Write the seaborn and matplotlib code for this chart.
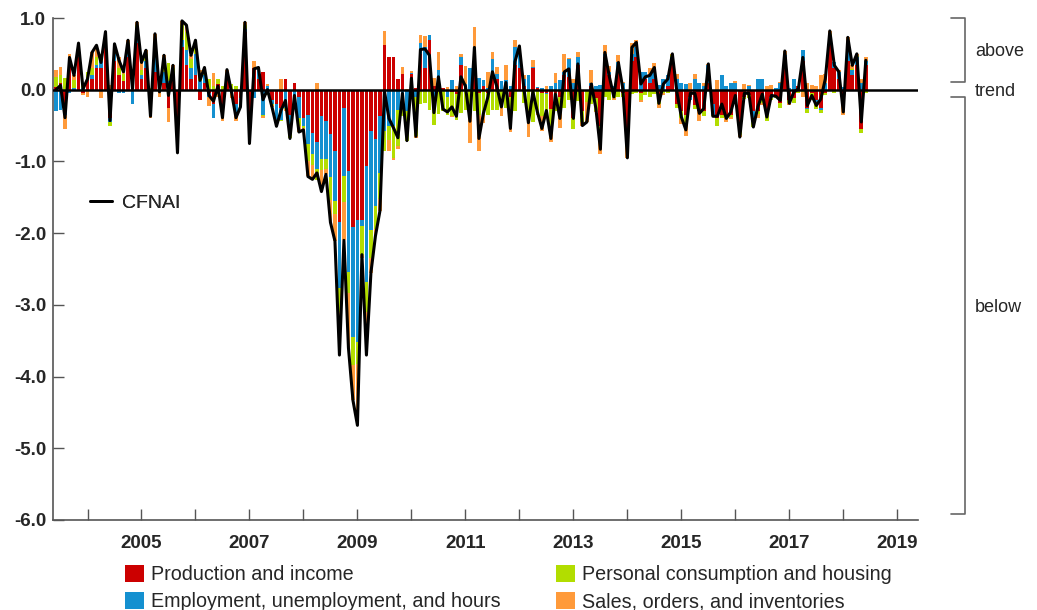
import numpy as np
import pandas as pd
import matplotlib
matplotlib.use("Agg")
import matplotlib.pyplot as plt
import seaborn as sns
from matplotlib.transforms import blended_transform_factory
from matplotlib.patches import Patch
from matplotlib.lines import Line2D

# ---------------- data (monthly, Jun 2003 - Jun 2018) ----------------
months = pd.period_range("2003-06", "2018-06", freq="M")

production = [0.04, 0.09, -0.30, 0.34, 0.00, 0.45, -0.05, 0.13, 0.15, 0.30,
              0.30, 0.60, -0.40, 0.40, 0.20, 0.12, 0.45, 0.05, 0.65, 0.15,
              0.30, -0.25, 0.25, 0.02, 0.10, -0.25, 0.15, -0.70, 0.60, 0.35,
              0.15, 0.20, -0.15, 0.10, -0.05, -0.20, 0.08, -0.20, 0.15, -0.05,
              -0.20, -0.12, 0.80, -0.65, 0.30, 0.15, 0.25, -0.05, -0.15, -0.20,
              -0.25, 0.15, -0.35, 0.10, -0.10, -0.40, -0.35, -0.60, -0.73, -0.36,
              -0.43, -0.62, -0.86, -1.85, -0.25, -1.13, -1.92, -1.81, -1.81, -1.06,
              -0.58, -0.69, -0.37, 0.62, 0.45, 0.45, 0.15, 0.22, 0.00, 0.22,
              0.02, 0.50, 0.30, 0.70, 0.05, 0.18, 0.02, -0.02, -0.03, -0.06,
              0.35, 0.05, -0.02, 0.35, -0.05, 0.05, -0.05, 0.25, 0.15, -0.02,
              0.00, -0.10, 0.35, 0.30, 0.05, -0.01, 0.30, 0.02, -0.05, -0.04,
              -0.27, -0.05, -0.10, 0.20, 0.18, -0.40, 0.35, -0.30, 0.00, 0.05,
              -0.12, -0.50, 0.45, 0.20, 0.00, 0.28, -0.05, -0.65, 0.40, 0.45,
              -0.05, 0.15, 0.10, 0.15, -0.10, 0.00, 0.05, 0.40, -0.20, -0.30,
              -0.35, -0.10, -0.22, -0.30, -0.30, 0.10, -0.20, -0.40, -0.35, -0.35,
              -0.35, -0.15, -0.50, -0.10, -0.08, -0.30, -0.30, -0.15, -0.30, -0.10,
              -0.10, -0.18, 0.45, -0.15, -0.12, 0.05, 0.40, -0.25, -0.05, -0.15,
              -0.25, -0.05, 0.75, 0.30, 0.15, -0.10, 0.40, 0.20, 0.35, -0.55,
              0.35]

employment = [-0.30, -0.28, -0.05, -0.05, 0.02, 0.08, 0.02, 0.02, 0.05, 0.05,
              0.10, 0.10, -0.05, 0.10, -0.04, -0.05, 0.05, -0.20, 0.10, 0.05,
              0.10, -0.05, 0.30, -0.02, 0.15, 0.12, 0.05, -0.15, 0.10, 0.20,
              0.15, 0.30, 0.12, 0.10, -0.05, -0.20, -0.02, -0.10, 0.03, 0.00,
              -0.12, -0.10, 0.05, -0.05, -0.11, 0.15, -0.35, 0.05, -0.05, -0.25,
              -0.17, -0.25, -0.25, -0.13, -0.30, -0.10, -0.40, -0.30, -0.38, -0.60,
              -0.53, -0.60, -0.69, -0.92, -0.95, -1.41, -1.53, -1.71, -0.09, -1.62,
              -1.37, -0.93, -0.79, -0.58, -0.50, -0.50, -0.28, -0.07, -0.30, 0.02,
              -0.10, 0.15, 0.30, 0.06, -0.10, 0.09, 0.01, -0.08, 0.14, 0.00,
              0.10, 0.03, 0.30, 0.03, 0.17, 0.08, 0.02, 0.18, 0.07, 0.12,
              0.13, 0.05, 0.25, 0.24, 0.10, 0.20, 0.02, 0.02, 0.03, -0.02,
              0.05, 0.10, 0.13, 0.05, 0.25, 0.10, 0.10, 0.00, -0.02, 0.05,
              0.05, 0.07, 0.05, 0.05, 0.05, 0.10, 0.10, 0.00, 0.10, 0.15,
              0.25, 0.10, 0.10, 0.10, 0.06, 0.15, 0.15, 0.05, 0.15, 0.10,
              0.08, -0.05, 0.15, 0.10, 0.05, 0.25, -0.15, 0.00, 0.20, 0.05,
              0.10, 0.10, -0.05, 0.00, 0.05, -0.15, 0.15, 0.15, -0.03, -0.02,
              0.03, 0.10, 0.03, 0.02, 0.15, 0.00, 0.15, -0.02, 0.00, -0.02,
              -0.03, 0.10, 0.00, 0.08, 0.10, 0.04, 0.15, 0.08, 0.10, 0.10,
              0.05]

consumption = [0.14, 0.12, 0.16, 0.04, 0.12, 0.12, 0.06, 0.10, 0.10, 0.10,
               0.10, 0.08, -0.05, 0.10, 0.10, 0.10, 0.15, 0.08, 0.15, 0.08,
               0.10, 0.03, 0.10, 0.05, 0.10, 0.25, 0.10, 0.00, 0.20, 0.25,
               0.13, 0.15, 0.08, 0.10, 0.15, 0.05, 0.07, 0.05, 0.02, 0.08,
               0.05, 0.00, 0.05, -0.02, 0.00, 0.00, -0.02, -0.03, -0.02, -0.03,
               -0.02, -0.02, -0.07, -0.02, -0.10, -0.04, -0.25, -0.15, -0.15, -0.16,
               -0.15, -0.32, -0.19, -0.33, -0.36, -0.30, -0.39, -0.30, -0.40, -0.42,
               -0.39, -0.32, -0.37, -0.28, -0.20, -0.45, -0.50, -0.30, -0.42, -0.10,
               -0.55, -0.20, -0.18, -0.28, -0.39, -0.34, -0.30, -0.25, -0.33, -0.36,
               -0.32, -0.28, -0.30, -0.29, -0.30, -0.31, -0.30, -0.28, -0.28, -0.22,
               -0.25, -0.27, -0.30, 0.00, -0.18, -0.35, -0.45, -0.30, -0.32, -0.28,
               -0.35, -0.25, -0.23, -0.25, -0.15, -0.15, -0.16, -0.15, -0.15, -0.20,
               -0.18, -0.15, -0.10, -0.15, -0.12, -0.10, -0.05, -0.15, -0.06, -0.04,
               -0.10, -0.07, -0.10, -0.06, -0.10, -0.05, -0.05, 0.03, -0.05, -0.10,
               -0.12, 0.00, -0.05, 0.00, -0.06, 0.00, -0.02, -0.10, -0.05, -0.03,
               -0.03, -0.05, -0.08, -0.03, -0.04, -0.07, -0.04, -0.03, -0.10, -0.02,
               -0.02, -0.08, 0.01, -0.03, -0.06, -0.04, -0.03, -0.05, -0.10, -0.10,
               -0.05, -0.02, 0.02, -0.04, -0.02, -0.05, 0.03, 0.01, 0.02, -0.05,
               -0.05]

sales = [0.09, 0.11, -0.20, 0.12, 0.06, 0.00, -0.02, -0.10, 0.22, 0.17,
         -0.12, 0.03, 0.07, 0.04, 0.15, 0.08, 0.04, 0.08, 0.04, 0.10,
         0.05, -0.10, 0.13, -0.08, 0.13, -0.20, 0.04, -0.03, 0.06, 0.10,
         0.05, 0.04, 0.08, 0.01, -0.13, 0.19, -0.08, -0.14, 0.08, -0.06,
         -0.12, -0.02, 0.04, -0.03, 0.10, 0.01, -0.02, 0.03, -0.02, -0.03,
         0.15, -0.03, -0.01, -0.03, -0.09, -0.02, -0.21, -0.20, 0.10, -0.30,
         -0.07, -0.31, -0.37, -0.60, -0.54, -0.76, -0.49, -0.86, -0.05, -0.60,
         -0.21, -0.10, -0.16, 0.20, -0.15, -0.03, -0.04, 0.10, 0.01, 0.02,
         -0.02, 0.11, 0.15, 0.00, 0.12, 0.25, 0.00, 0.04, -0.02, 0.05,
         0.05, 0.25, -0.42, 0.50, -0.50, -0.15, 0.23, 0.10, 0.10, -0.12,
         0.22, -0.22, 0.09, 0.07, 0.05, -0.30, 0.10, -0.05, -0.20, 0.05,
         -0.11, 0.14, -0.20, 0.25, 0.01, 0.05, 0.07, -0.05, -0.28, 0.18,
         -0.01, -0.25, 0.12, 0.08, -0.03, 0.10, 0.01, -0.15, 0.15, 0.10,
         -0.02, 0.00, 0.10, 0.12, -0.05, -0.02, 0.00, 0.02, 0.07, -0.08,
         -0.17, 0.10, 0.07, -0.13, 0.05, 0.01, 0.00, 0.13, 0.00, -0.07,
         -0.03, 0.02, -0.03, 0.08, 0.02, 0.00, -0.05, -0.03, 0.05, 0.06,
         0.00, 0.01, 0.05, -0.03, 0.00, 0.00, -0.07, 0.10, 0.07, 0.05,
         0.20, 0.12, 0.05, 0.00, 0.02, -0.20, 0.15, 0.05, 0.03, 0.05,
         0.06]

cfnai = [0.00, 0.06, -0.39, 0.45, 0.20, 0.65, 0.01, 0.15, 0.52, 0.62,
         0.38, 0.81, -0.43, 0.64, 0.41, 0.25, 0.69, 0.01, 0.94, 0.38,
         0.55, -0.37, 0.78, -0.03, 0.48, -0.08, 0.34, -0.88, 0.96, 0.90,
         0.48, 0.69, 0.13, 0.31, -0.08, -0.16, 0.05, -0.39, 0.28, -0.03,
         -0.39, -0.24, 0.94, -0.75, 0.29, 0.31, -0.14, 0.00, -0.24, -0.51,
         -0.29, -0.15, -0.68, -0.08, -0.59, -0.56, -1.21, -1.25, -1.16, -1.42,
         -1.18, -1.85, -2.11, -3.70, -2.10, -3.60, -4.33, -4.68, -2.30, -3.70,
         -2.55, -2.04, -1.69, -0.02, -0.40, -0.53, -0.67, -0.05, -0.71, 0.16,
         -0.65, 0.56, 0.57, 0.48, -0.32, 0.18, -0.27, -0.31, -0.24, -0.37,
         0.18, 0.05, -0.44, 0.59, -0.68, -0.33, -0.10, 0.25, 0.04, -0.24,
         0.10, -0.54, 0.39, 0.61, 0.02, -0.46, -0.03, -0.31, -0.54, -0.29,
         -0.68, -0.06, -0.40, 0.25, 0.29, -0.40, 0.36, -0.50, -0.45, 0.08,
         -0.26, -0.83, 0.52, 0.18, -0.10, 0.38, 0.01, -0.95, 0.59, 0.66,
         0.08, 0.18, 0.20, 0.31, -0.19, 0.08, 0.15, 0.50, -0.03, -0.38,
         -0.56, -0.05, -0.05, -0.33, -0.26, 0.36, -0.37, -0.37, -0.20, -0.40,
         -0.31, -0.08, -0.66, -0.05, -0.05, -0.52, -0.24, -0.06, -0.38, -0.08,
         -0.09, -0.15, 0.54, -0.19, -0.03, 0.01, 0.45, -0.22, -0.08, -0.22,
         -0.13, 0.15, 0.82, 0.34, 0.25, -0.31, 0.73, 0.34, 0.50, -0.45,
         0.41]

series_names = ["Production and income",
                "Employment, unemployment, and hours",
                "Personal consumption and housing",
                "Sales, orders, and inventories"]
series_colors = ["#CC0000", "#1490D0", "#B2DD00", "#FF9A3A"]
ytick_values = [1, 0, -1, -2, -3, -4, -5, -6]
ytick_labels = ["1.0", "0.0", "-1.0", "-2.0", "-3.0", "-4.0", "-5.0", "-6.0"]

# ---------------- styling ----------------
sns.set_theme(style="white")
plt.rcParams["font.family"] = ["Liberation Sans", "DejaVu Sans"]

W, H = 1037, 610
fig = plt.figure(figsize=(W / 100, H / 100), dpi=100)
ax = fig.add_axes([53 / W, 90 / H, 865 / W, 502 / H])

idx = np.arange(len(months))
pos_base = np.zeros(len(idx))
neg_base = np.zeros(len(idx))
for vals, col in zip([production, employment, consumption, sales], series_colors):
    v = np.asarray(vals, dtype=float)
    pos = np.clip(v, 0, None)
    neg = np.clip(v, None, 0)
    for part, base in ((pos, pos_base), (neg, neg_base)):
        df = pd.DataFrame({"x": idx, "h": part})
        sns.barplot(data=df, x="x", y="h", native_scale=True, bottom=base.copy(),
                    color=col, saturation=1, errorbar=None, width=0.84,
                    linewidth=0, ax=ax)
    pos_base += pos
    neg_base += neg

ax.axhline(0, color="black", lw=1.8, zorder=3)
sns.lineplot(x=idx, y=cfnai, color="black", linewidth=2.2, estimator=None,
             ax=ax, zorder=4)

ax.set_xlim(-0.67, 191.6)
ax.set_ylim(-6, 1)
ax.set_xlabel("")
ax.set_ylabel("")

jan_idx = [i for i, m in enumerate(months) if m.month == 1] + [len(months) + 6]
jan_years = [m.year for m in months if m.month == 1] + [2019]
ax.set_xticks(jan_idx)
ax.set_xticklabels([str(y) if y % 2 == 1 else "" for y in jan_years],
                   fontweight="bold", fontsize=13.5)
ax.set_yticks(ytick_values)
ax.set_yticklabels(ytick_labels, fontweight="bold", fontsize=13.5)
ax.tick_params(axis="x", direction="in", length=8, width=1, color="#555555",
               pad=10.5, bottom=True)
ax.tick_params(axis="y", direction="in", length=8, width=1, color="#555555",
               pad=5, left=True)
for s in ("top", "right"):
    ax.spines[s].set_visible(False)
for s in ("left", "bottom"):
    ax.spines[s].set_color("#555555")
    ax.spines[s].set_linewidth(1.2)

# CFNAI legend inside the plot
leg1 = ax.legend(handles=[Line2D([], [], color="black", lw=2)], labels=["CFNAI"],
                 loc="center left", frameon=False, fontsize=14,
                 handlelength=1.15, handletextpad=0.5, borderaxespad=0,
                 borderpad=0)
leg1.set_bbox_to_anchor(((90 - 53) / 865, 1 - (203 - 18) / 502), transform=ax.transAxes)
ax.add_artist(leg1)

# component legend below
handles = [Patch(facecolor=c, edgecolor="none") for c in series_colors]
fig.legend(handles=handles, labels=series_names, ncol=2, loc="upper left",
           bbox_to_anchor=(125 / W, 1 - 565 / H), frameon=False, fontsize=14.2,
           handlelength=0.95, handleheight=0.95, handletextpad=0.35,
           columnspacing=2.85, labelspacing=0.4, borderaxespad=0, borderpad=0)

# right-hand brackets
tr = blended_transform_factory(ax.transAxes, ax.transData)
bx = (965 - 53) / 865
bx0 = (951 - 53) / 865
for y0, y1 in ((1.0, 0.11), (-0.10, -5.92)):
    ax.plot([bx0, bx, bx, bx0], [y0, y0, y1, y1], color="#666666", lw=1.2,
            transform=tr, clip_on=False)
tx = (975 - 53) / 865
ax.text(tx, 0.53, "above", transform=tr, fontsize=13, va="center", ha="left")
ax.text(tx, -0.03, "trend", transform=tr, fontsize=13, va="center", ha="left")
ax.text(tx, -3.03, "below", transform=tr, fontsize=13, va="center", ha="left")

fig.savefig("out.png", dpi=100)
